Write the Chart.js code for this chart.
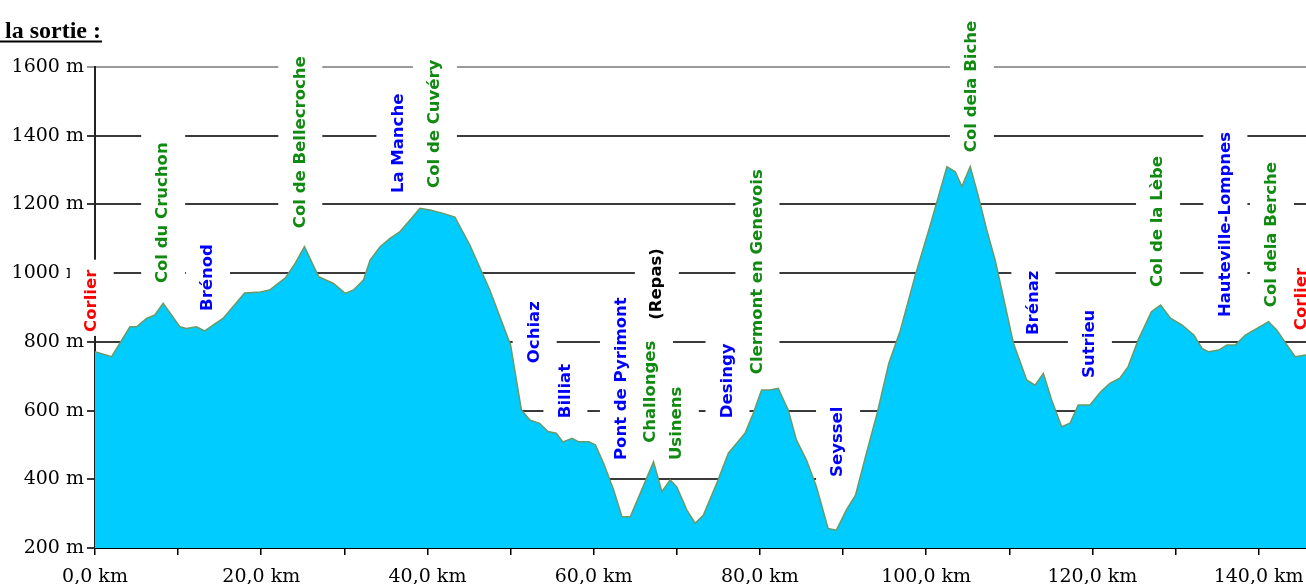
<!DOCTYPE html>
<html>
<head>
<meta charset="utf-8">
<script src="https://cdn.jsdelivr.net/npm/chart.js@4/dist/chart.umd.min.js"></script>
<style>
  html, body { margin: 0; padding: 0; background: #fff; }
  #wrap { width: 1306px; height: 584px; position: relative; }
</style>
</head>
<body>
<div id="wrap"><canvas id="profil"></canvas></div>
<script>
// Profile of the ride: distance (km) and altitude (m)
const distKm = [0, 2.0, 4.2, 5.0, 6.2, 7.2, 8.2, 10.2, 11.0, 12.2, 13.2, 14.2, 15.4, 16.6, 18.0, 19.9, 21.0, 22.9, 24.1, 25.2,
  26.9, 28.7, 30.1, 31.1, 32.3, 33.1, 34.3, 35.5, 36.7, 37.9, 39.1, 40.3, 41.9, 43.3, 45.1, 47.5, 50.0, 51.3, 52.3, 53.5,
  54.5, 55.5, 56.3, 57.4, 58.2, 59.4, 60.2, 61.2, 62.4, 63.4, 64.4, 65.6, 67.2, 68.2, 69.2, 70.0, 71.2, 72.2, 73.2, 74.8,
  76.2, 77.2, 78.2, 79.2, 80.2, 81.2, 82.2, 83.4, 84.4, 85.6, 86.8, 88.2, 89.2, 90.4, 91.5, 92.7, 94.1, 95.5, 96.9, 98.7,
  100.5, 102.5, 103.5, 104.3, 105.3, 106.3, 107.3, 108.3, 109.1, 110.5, 112.1, 113.1, 114.1, 115.1, 116.3, 117.3, 118.3, 119.7, 121.0,
  122.1, 123.3, 124.3, 125.5, 127.1, 128.2, 129.4, 130.8, 132.2, 133.2, 134.0, 135.2, 136.2, 137.2, 138.4, 139.8, 141.2, 142.2,
  143.4, 144.4, 145.7];
const altitude = [771, 757, 844, 844, 868, 878, 912, 844, 839, 844, 832, 849, 868, 902, 942, 945, 951, 986, 1029, 1077,
  990, 970, 941, 951, 980, 1038, 1077, 1101, 1121, 1155, 1189, 1184, 1174, 1163, 1082, 951, 791, 602, 573, 563,
  539, 534, 509, 519, 509, 509, 500, 446, 369, 291, 291, 359, 451, 364, 398, 378, 311, 272, 296, 388,
  476, 505, 534, 592, 660, 660, 665, 602, 514, 456, 378, 257, 252, 311, 354, 466, 592, 737, 834, 995,
  1140, 1310, 1295, 1252, 1310, 1222, 1125, 1038, 951, 796, 689, 674, 708, 631, 553, 563, 616, 616, 655,
  679, 694, 728, 805, 888, 907, 869, 849, 820, 781, 771, 776, 791, 791, 820, 839, 859, 834,
  791, 757, 762];

// Axis ticks
const kmTicks = [0, 10, 20, 30, 40, 50, 60, 70, 80, 90, 100, 110, 120, 130, 140];
const altTicks = [200, 400, 600, 800, 1000, 1200, 1400, 1600];

// Place names along the route
const placeNames = ['Corlier', 'Col du Cruchon', 'Brénod', 'Col de Bellecroche', 'La Manche', 'Col de Cuvéry',
  'Ochiaz', 'Billiat', 'Pont de Pyrimont', 'Challonges', '(Repas)', 'Usinens', 'Desingy', 'Clermont en Genevois',
  'Seyssel', 'Col dela Biche', 'Brénaz', 'Sutrieu', 'Col de la Lèbe', 'Hauteville-Lompnes', 'Col dela Berche', 'Corlier'];
const placeKm = [-0.4, 8.2, 13.6, 24.7, 36.5, 40.9, 52.9, 56.6, 63.4, 66.9, 67.6, 70.0, 76.1, 79.7,
  89.4, 105.5, 112.9, 119.7, 127.9, 136.0, 141.6, 145.2];
const placeAlt = [829, 971, 890, 1131, 1233, 1248, 738, 578, 456, 506, 864, 456, 578, 706,
  407, 1352, 820, 695, 960, 872, 901, 834];
const placeType = ['town', 'col', 'village', 'col', 'village', 'col', 'village', 'village', 'village', 'col', 'note',
  'col', 'village', 'col', 'village', 'col', 'village', 'village', 'col', 'village', 'col', 'town'];

const typeColor = { town: '#ff0000', col: '#108a10', village: '#0000ff', note: '#000000' };
const labelFont = 'bold 16.5px "DejaVu Sans", sans-serif';
const axisFont = { family: '"DejaVu Serif", serif', size: 19 };

const placeLabels = {
  id: 'placeLabels',
  beforeDatasetsDraw(chart) {
    // white boxes behind the names break the grid lines
    const { ctx, scales: { x, y } } = chart;
    ctx.save();
    ctx.font = labelFont;
    ctx.fillStyle = '#ffffff';
    placeNames.forEach((name, i) => {
      const w = ctx.measureText(name).width;
      const px = x.getPixelForValue(placeKm[i]);
      const py = y.getPixelForValue(placeAlt[i]);
      ctx.fillRect(px - 22, py - w - 10, 44, w + 14);
    });
    ctx.restore();
  },
  afterDatasetsDraw(chart) {
    const { ctx, scales: { x, y } } = chart;
    ctx.save();
    ctx.font = labelFont;
    ctx.textBaseline = 'middle';
    ctx.textAlign = 'left';
    placeNames.forEach((name, i) => {
      const px = x.getPixelForValue(placeKm[i]);
      const py = y.getPixelForValue(placeAlt[i]);
      ctx.save();
      ctx.translate(px, py);
      ctx.rotate(-Math.PI / 2);
      ctx.fillStyle = typeColor[placeType[i]];
      ctx.fillText(name, 0, 0);
      ctx.restore();
    });
    ctx.restore();
  }
};

const heading = {
  id: 'heading',
  afterDraw(chart) {
    const ctx = chart.ctx;
    ctx.save();
    ctx.font = 'bold 24px "Liberation Serif", serif';
    ctx.fillStyle = '#000';
    ctx.textBaseline = 'alphabetic';
    ctx.fillText('la sortie :', 5, 38);
    const w = ctx.measureText('la sortie :').width;
    ctx.fillRect(0, 40.5, w + 6, 2);
    ctx.restore();
  }
};

new Chart(document.getElementById('profil'), {
  type: 'line',
  data: {
    datasets: [{
      data: distKm.map((d, i) => ({ x: d, y: altitude[i] })),
      fill: 'start',
      backgroundColor: '#00ccff',
      borderColor: '#6a9a6a',
      borderWidth: 1.5,
      pointRadius: 0,
      tension: 0
    }]
  },
  options: {
    responsive: true,
    maintainAspectRatio: false,
    animation: false,
    layout: { padding: { top: 67, right: 0, left: 0, bottom: 0 } },
    plugins: { legend: { display: false }, tooltip: { enabled: false } },
    scales: {
      x: {
        type: 'linear',
        min: 0,
        max: 145.7,
        afterBuildTicks(scale) { scale.ticks = kmTicks.map(v => ({ value: v })); },
        afterFit(scale) { scale.height = 36; scale.paddingRight = 0; scale.paddingLeft = 0; },
        ticks: {
          autoSkip: false,
          maxRotation: 0,
          padding: 11,
          color: '#000',
          font: axisFont,
          callback: v => (v % 20 === 0 ? v.toFixed(1).replace('.', ',') + ' km' : '')
        },
        grid: { drawOnChartArea: false, color: '#000', tickLength: 7, lineWidth: 1.5 },
        border: { color: '#000', width: 2 }
      },
      y: {
        min: 200,
        max: 1600,
        afterBuildTicks(scale) { scale.ticks = altTicks.map(v => ({ value: v })); },
        afterFit(scale) { scale.width = 95; },
        ticks: {
          padding: 3,
          color: '#000',
          font: axisFont,
          callback: v => v + ' m'
        },
        grid: {
          color: ctx => (ctx.tick && ctx.tick.value === 1600 ? '#9a9a9a' : '#3a3a3a'),
          lineWidth: 2,
          tickLength: 8
        },
        border: { color: '#222', width: 2 }
      }
    }
  },
  plugins: [placeLabels, heading]
});
</script>
</body>
</html>
